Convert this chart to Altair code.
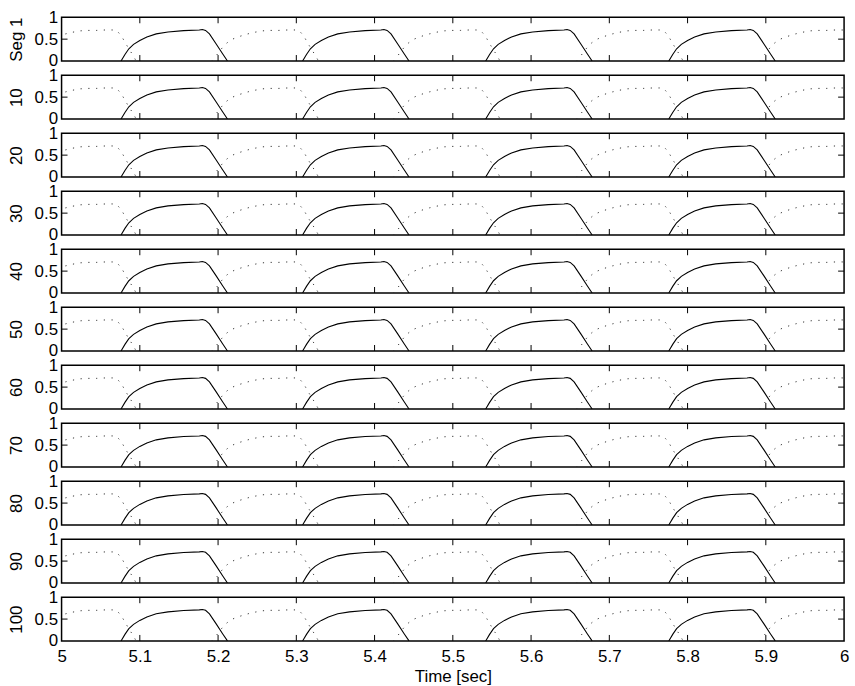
import altair as alt
import pandas as pd

# ---- data ----
panel_titles = ["Seg 1", "10", "20", "30", "40", "50", "60", "70", "80", "90", "100"]
cycle_starts = [4.843, 5.076, 5.308, 5.542, 5.776]

# solid trace: time after cycle start (s), value
solid_rel = [0.0, 0.005, 0.010, 0.016, 0.024, 0.033, 0.045, 0.060, 0.080,
             0.100, 0.104, 0.108, 0.113, 0.1216, 0.130, 0.136]
solid_val = [0.0, 0.15, 0.28, 0.38, 0.47, 0.55, 0.62, 0.665, 0.695,
             0.71, 0.72, 0.70, 0.62, 0.39, 0.16, 0.0]

# dotted trace: time after cycle start (s), value
dotted_rel = [0.116, 0.1216, 0.127, 0.133, 0.141, 0.151, 0.162, 0.1715, 0.181,
              0.191, 0.202, 0.213, 0.2253, 0.2283, 0.2333, 0.2383, 0.2433,
              0.2483, 0.2523]
dotted_val = [0.0, 0.12, 0.25, 0.38, 0.49, 0.56, 0.62, 0.66, 0.69,
              0.70, 0.70, 0.71, 0.71, 0.68, 0.58, 0.42, 0.27, 0.13, 0.0]

x_tick_values = [5.0, 5.1, 5.2, 5.3, 5.4, 5.5, 5.6, 5.7, 5.8, 5.9, 6.0]
inner_x_ticks = [5.1, 5.2, 5.3, 5.4, 5.5, 5.6, 5.7, 5.8, 5.9]
y_tick_values = [0, 0.5, 1]

# ---- tables ----
rows = []
for c, s in enumerate(cycle_starts):
    for r, v in zip(solid_rel, solid_val):
        rows.append({"t": s + r, "v": v, "cycle": c, "kind": "solid"})
    for r, v in zip(dotted_rel, dotted_val):
        rows.append({"t": s + r, "v": v, "cycle": c, "kind": "dotted"})
df = pd.DataFrame(rows)
solid_df = df[df.kind == "solid"]
dotted_df = df[df.kind == "dotted"]
xt_df = pd.DataFrame({"t": inner_x_ticks})

W, H = 788, 44
TICK = 6
FONT = "Liberation Sans"
FS = 17

xscale = alt.Scale(domain=[5, 6], nice=False, zero=False)
yscale = alt.Scale(domain=[0, 1], nice=False)


def panel(title, show_x):
    if show_x:
        xaxis = alt.Axis(values=x_tick_values, format="~g", title="Time [sec]",
                         labelPadding=8, titlePadding=4)
    else:
        xaxis = None
    yaxis = alt.Axis(values=y_tick_values, format="~g", title=title,
                     labelPadding=4, titlePadding=9)

    def X(f):
        return alt.X(f, type="quantitative", scale=xscale, axis=xaxis)

    def Y(f):
        return alt.Y(f, type="quantitative", scale=yscale, axis=yaxis)

    solid = alt.Chart(solid_df).mark_line(color="black", strokeWidth=1.1, clip=True).encode(
        x=X("t"), y=Y("v"), detail="cycle:N")
    dotted = alt.Chart(dotted_df).mark_line(color="#333333", strokeWidth=1.0,
                                            strokeDash=[1.2, 6.6], clip=True).encode(
        x=X("t"), y=Y("v"), detail="cycle:N")
    top_ticks = alt.Chart(xt_df).mark_rule(color="black", strokeWidth=1).encode(
        x=X("t"), y=alt.value(0), y2=alt.value(TICK))
    bot_ticks = alt.Chart(xt_df).mark_rule(color="black", strokeWidth=1).encode(
        x=X("t"), y=alt.value(H - TICK), y2=alt.value(H))
    left_tick = alt.Chart(xt_df.head(1)).mark_rule(color="black", strokeWidth=1).encode(
        y=alt.Y(datum=0.5, type="quantitative", scale=yscale, axis=yaxis),
        x=alt.value(0), x2=alt.value(TICK))
    right_tick = alt.Chart(xt_df.head(1)).mark_rule(color="black", strokeWidth=1).encode(
        y=alt.Y(datum=0.5, type="quantitative", scale=yscale, axis=yaxis),
        x=alt.value(W - TICK), x2=alt.value(W))
    return alt.layer(dotted, solid, top_ticks, bot_ticks, left_tick, right_tick).properties(
        width=W, height=H)


panels = [panel(t, i == len(panel_titles) - 1) for i, t in enumerate(panel_titles)]

chart = alt.vconcat(*panels, spacing=14.4, bounds="flush").properties(
    padding={"left": 6, "top": 5, "right": 5, "bottom": 2},
    background="white"
).configure_view(
    stroke="black", strokeWidth=1.5
).configure_axis(
    labelFont=FONT, labelFontSize=FS, labelColor="black",
    titleFont=FONT, titleFontSize=FS, titleFontWeight="normal", titleColor="black",
    ticks=False, domain=False, grid=False, labelFlush=False, labelOverlap=False
)

chart.save("out.html", embed_options={"renderer": "svg", "actions": False})
